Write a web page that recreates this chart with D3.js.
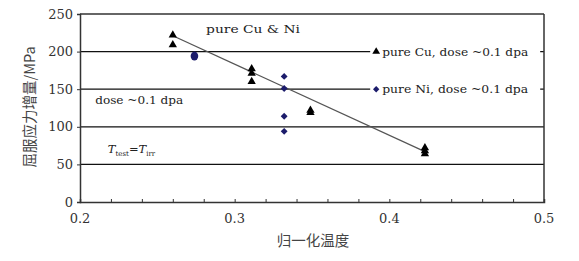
<!DOCTYPE html>
<html>
<head>
<meta charset="utf-8">
<script src="https://cdn.jsdelivr.net/npm/d3@7"></script>
<style>
  body { margin: 0; background: #fff; }
  svg text { font-family: "DejaVu Serif", "Liberation Serif", serif; }
</style>
</head>
<body>
<div id="chart"></div>
<script>
// data
const cuPoints = [
  [0.260, 222], [0.260, 209],
  [0.311, 177], [0.311, 171], [0.311, 160],
  [0.349, 122], [0.349, 119],
  [0.423, 72], [0.423, 68], [0.423, 64]
];
const niPoints = [
  [0.332, 167], [0.332, 151], [0.332, 114], [0.332, 94]
];
const niRound = [[0.274, 194]];
const trendLine = [[0.260, 221], [0.423, 67]];
const xTicks = [0.2, 0.3, 0.4, 0.5];
const yTicks = [0, 50, 100, 150, 200, 250];
const legendItems = [
  { label: "pure Cu, dose ~0.1 dpa", y: 200, shape: "triangle" },
  { label: "pure Ni, dose ~0.1 dpa", y: 150, shape: "diamond" }
];

const W = 579, H = 261;
const margin = { left: 80, right: 35, top: 14, bottom: 59 };
const width = W - margin.left - margin.right;
const height = H - margin.top - margin.bottom;
const axisColor = '#333';
const niColor = '#1c1c6b';
const serif = '"DejaVu Serif", serif';

const svg = d3.select('#chart').append('svg')
  .attr('width', W).attr('height', H);
const g = svg.append('g')
  .attr('transform', `translate(${margin.left},${margin.top})`);

const x = d3.scaleLinear().domain([0.2, 0.5]).range([0, width]);
const y = d3.scaleLinear().domain([0, 250]).range([height, 0]);

// gridlines
g.append('g').selectAll('line')
  .data(yTicks.filter(d => d > 0))
  .join('line')
  .attr('x1', 0).attr('x2', width)
  .attr('y1', d => y(d)).attr('y2', d => y(d))
  .attr('stroke', d => d === 250 ? axisColor : '#111')
  .attr('stroke-width', d => d === 250 ? 1.5 : 1.3);

// right border
g.append('line')
  .attr('x1', width).attr('x2', width)
  .attr('y1', 0).attr('y2', height)
  .attr('stroke', axisColor).attr('stroke-width', 1.5);

// y axis
const yAxis = g.append('g')
  .call(d3.axisLeft(y).tickValues(yTicks).tickSize(3).tickPadding(4));
yAxis.select('.domain').attr('stroke', axisColor).attr('stroke-width', 1.5);
yAxis.selectAll('.tick line').attr('stroke', axisColor);
yAxis.selectAll('text')
  .style('font-family', serif)
  .style('font-size', '13px').attr('fill', '#333');

// x axis with inner minor ticks
const xAxis = g.append('g')
  .attr('transform', `translate(0,${height})`)
  .call(d3.axisBottom(x).tickValues(d3.range(0.2, 0.5001, 0.02)).tickSize(-3).tickFormat(''));
xAxis.select('.domain').attr('stroke', axisColor).attr('stroke-width', 1.5);
xAxis.selectAll('.tick line').attr('stroke', axisColor);
g.append('g').selectAll('text')
  .data(xTicks)
  .join('text')
  .attr('x', d => x(d)).attr('y', height + 21)
  .attr('text-anchor', 'middle')
  .style('font-family', serif)
  .style('font-size', '13px').attr('fill', '#333')
  .text(d => d3.format('.1f')(d));

// trend line
g.append('path')
  .datum(trendLine)
  .attr('d', d3.line().x(d => x(d[0])).y(d => y(d[1])))
  .attr('fill', 'none').attr('stroke', '#555').attr('stroke-width', 1.2);

// markers
const triangle = d3.symbol().type(d3.symbolTriangle).size(30);
const diamond = d3.symbol().type(d3.symbolDiamond2).size(30);
g.append('g').selectAll('path')
  .data(cuPoints).join('path')
  .attr('d', triangle)
  .attr('transform', d => `translate(${x(d[0])},${y(d[1])})`)
  .attr('fill', '#000');
g.append('g').selectAll('path')
  .data(niPoints).join('path')
  .attr('d', diamond)
  .attr('transform', d => `translate(${x(d[0])},${y(d[1])})`)
  .attr('fill', niColor);
g.append('g').selectAll('ellipse')
  .data(niRound).join('ellipse')
  .attr('cx', d => x(d[0])).attr('cy', d => y(d[1]))
  .attr('rx', 3.8).attr('ry', 4.5)
  .attr('fill', niColor);

// legend boxes over gridlines
const leg = g.append('g').selectAll('g')
  .data(legendItems).join('g')
  .attr('transform', d => `translate(${x(0.3915)},${y(d.y)})`);
leg.append('rect')
  .attr('x', -6).attr('y', -8).attr('width', 170).attr('height', 16)
  .attr('fill', '#fff');
leg.append('path')
  .attr('d', d => d.shape === 'triangle'
    ? d3.symbol().type(d3.symbolTriangle).size(26)()
    : d3.symbol().type(d3.symbolDiamond2).size(26)())
  .attr('transform', 'translate(0,0)')
  .attr('fill', d => d.shape === 'triangle' ? '#000' : niColor);
leg.append('text')
  .attr('x', 6).attr('y', 4)
  .attr('textLength', 146).attr('lengthAdjust', 'spacingAndGlyphs')
  .style('font-size', '11.5px').attr('fill', '#222')
  .text(d => d.label);

// annotations
g.append('text')
  .attr('x', x(0.2815)).attr('y', 19)
  .attr('textLength', 94).attr('lengthAdjust', 'spacingAndGlyphs')
  .style('font-size', '11.5px').attr('fill', '#222')
  .text('pure Cu & Ni');
g.append('text')
  .attr('x', x(0.2098)).attr('y', 90)
  .attr('textLength', 88).attr('lengthAdjust', 'spacingAndGlyphs')
  .style('font-size', '11.5px').attr('fill', '#222')
  .text('dose ~0.1 dpa');
const tt = g.append('text')
  .attr('x', x(0.218)).attr('y', 139)
  .style('font-size', '11.5px').attr('fill', '#222');
tt.append('tspan').style('font-style', 'italic').text('T');
tt.append('tspan').attr('dy', 2.5).style('font-size', '7px').text('test');
tt.append('tspan').attr('dy', -2.5).text('=');
tt.append('tspan').style('font-style', 'italic').text('T');
tt.append('tspan').attr('dy', 2.5).style('font-size', '7px').text('irr');

// axis titles
svg.append('text')
  .attr('transform', `translate(35,${margin.top + height / 2 - 1}) rotate(-90)`)
  .attr('text-anchor', 'middle')
  .style('font-family', '"Noto Sans CJK SC", sans-serif')
  .style('font-size', '14.5px').attr('fill', '#444')
  .text('屈服应力增量/MPa');
svg.append('text')
  .attr('x', 313).attr('y', 246)
  .attr('text-anchor', 'middle')
  .style('font-family', '"Noto Sans CJK SC", sans-serif')
  .style('font-size', '14.5px').attr('fill', '#444')
  .text('归一化温度');
</script>
</body>
</html>
